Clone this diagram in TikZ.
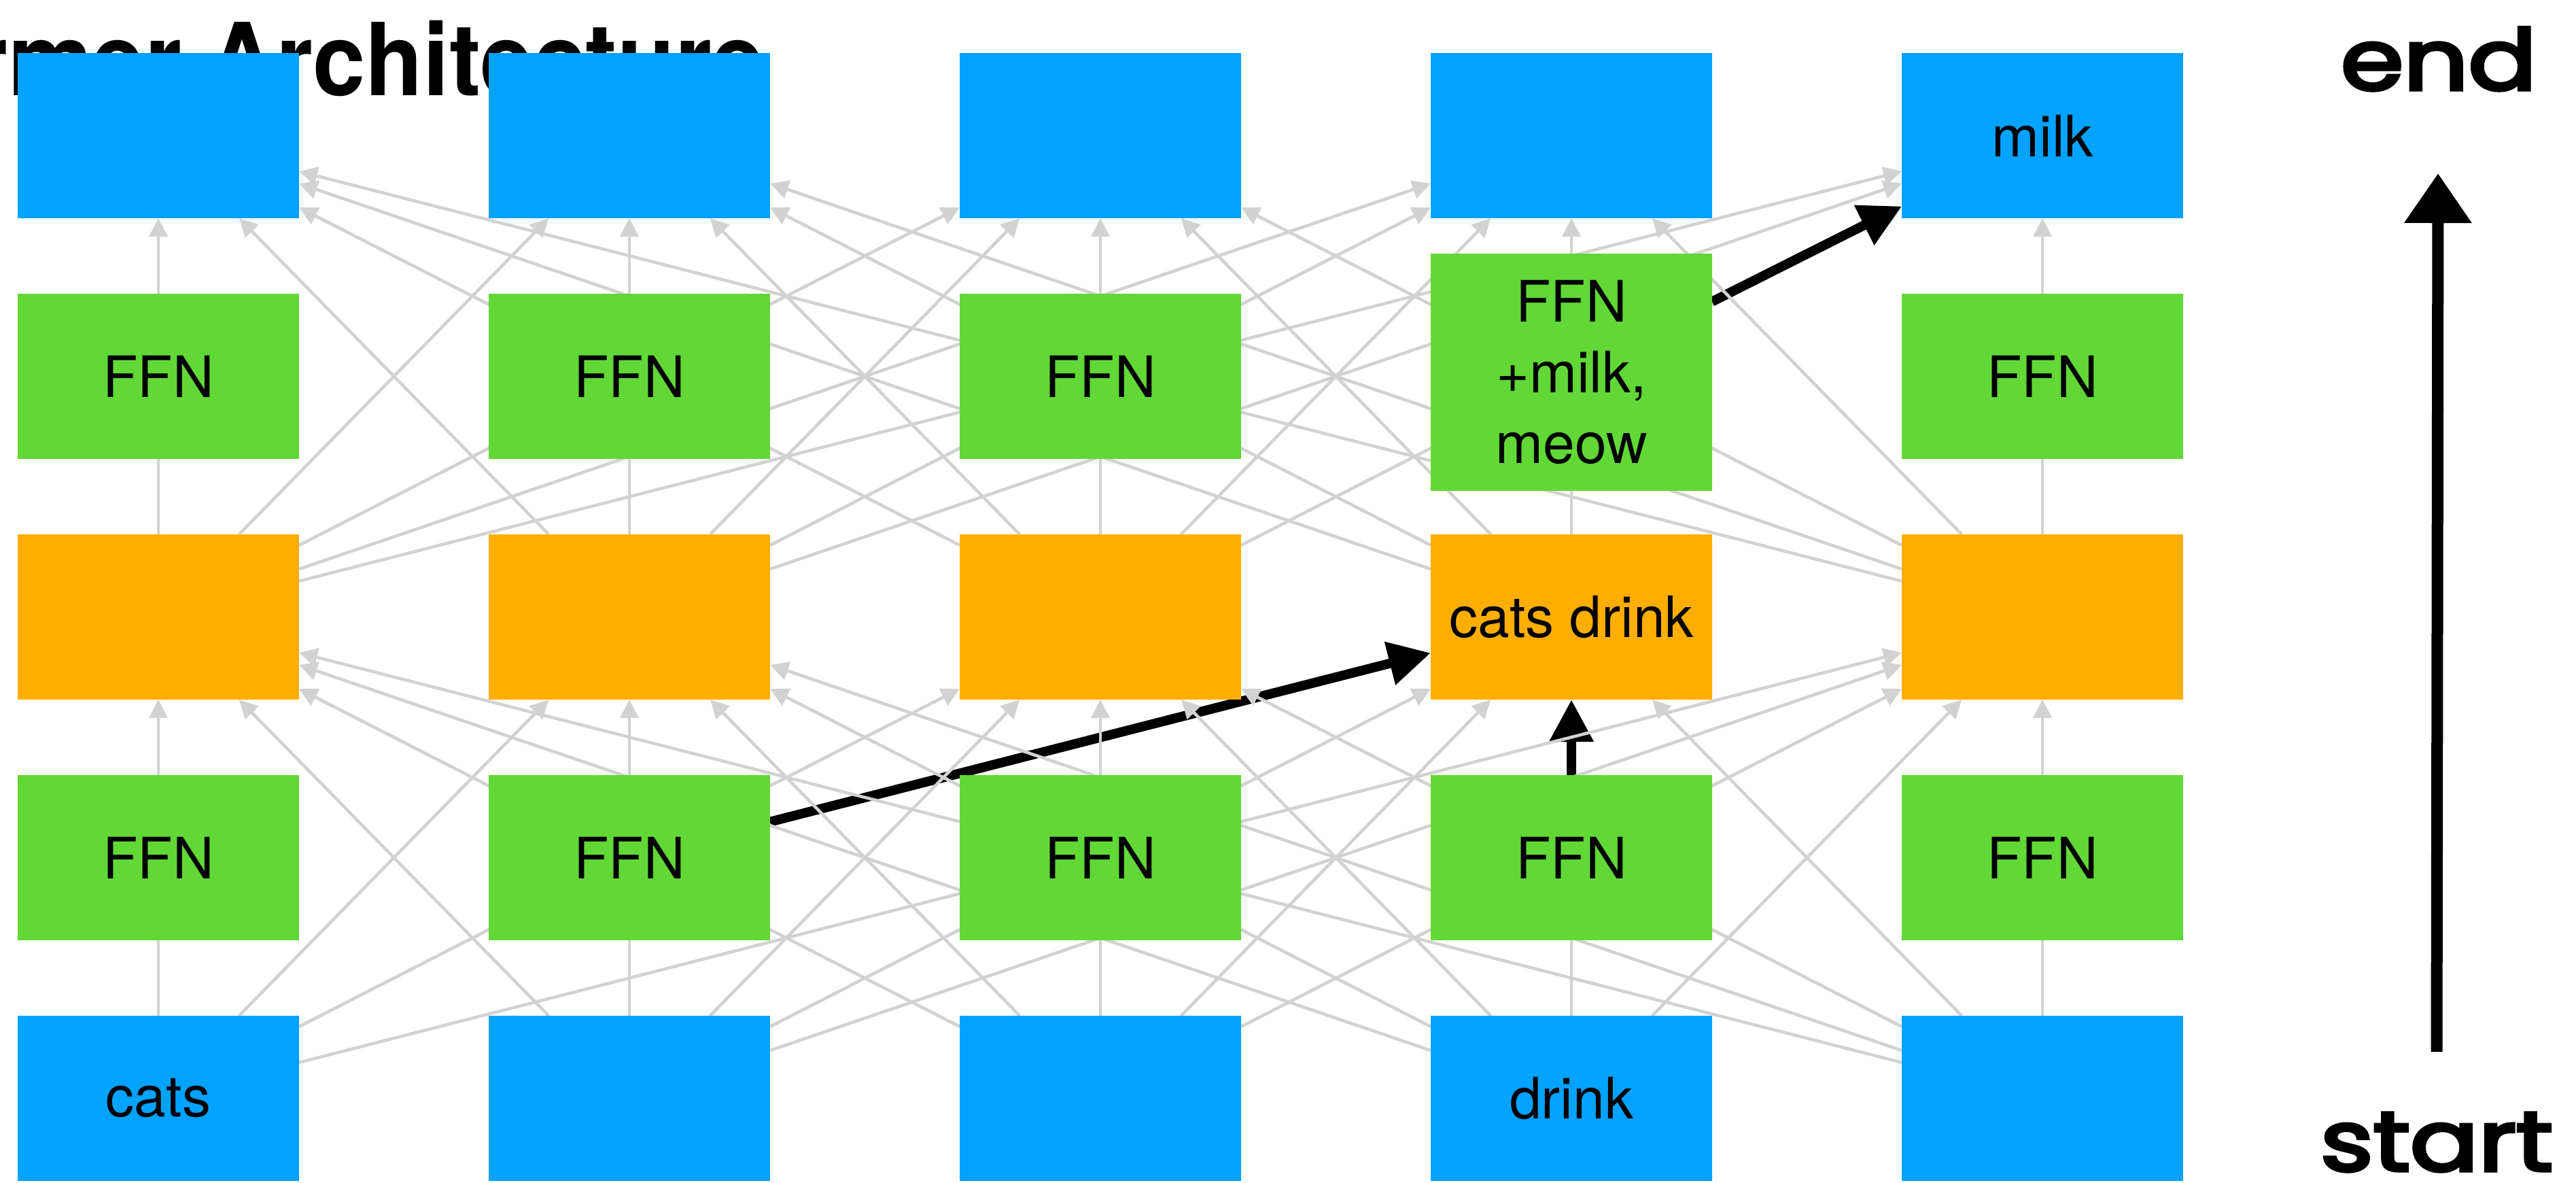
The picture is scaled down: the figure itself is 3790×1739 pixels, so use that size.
\documentclass[tikz,border=0pt]{standalone}
\usepackage{fontspec}
\usepackage{graphicx}
\setmainfont{TeX Gyre Heros}
\newfontfamily\handfont{Poppins}[FakeBold=4]
\usetikzlibrary{arrows.meta}

\definecolor{tokblue}{RGB}{2,162,255}
\definecolor{ffngreen}{RGB}{97,216,54}
\definecolor{attnorange}{RGB}{254,174,0}
\definecolor{linegrey}{RGB}{210,210,210}

\pgfdeclarelayer{back}
\pgfdeclarelayer{links}
\pgfsetlayers{back,links,main}

\tikzset{
  box/.style={rectangle, inner sep=0pt, outer sep=0pt,
    minimum width=103.5pt, minimum height=60.75pt, text=black,
    font=\fontsize{21pt}{26pt}\selectfont, align=center},
  tokbox/.style={box, fill=tokblue},
  ffnbox/.style={box, fill=ffngreen},
  attbox/.style={box, fill=attnorange},
  link/.style={draw=linegrey, line width=1.15pt,
    -{Triangle[length=6.75pt,width=6.75pt]}},
  focus/.style={draw=black, line width=3.5pt,
    -{Triangle[length=15.5pt,width=15.5pt]}},
  handlabel/.style={font=\handfont\fontsize{31pt}{31pt}\selectfont,
    anchor=base, inner sep=0pt},
}

\begin{document}
\begin{tikzpicture}[x=0.25pt,y=-0.25pt]
\useasboundingbox (0,0) rectangle (3790,1739);
\clip (0,0) rectangle (3790,1739);

% input tokens
\node[tokbox] (b1) at (233,1615.5)  {cats};
\node[tokbox] (b2) at (926,1615.5)  {};
\node[tokbox] (b3) at (1619,1615.5) {};
\node[tokbox] (b4) at (2312,1615.5) {drink};
\node[tokbox] (b5) at (3005,1615.5) {};

% first feed-forward row
\node[ffnbox] (f1) at (233,1261.5)  {FFN};
\node[ffnbox] (f2) at (926,1261.5)  {FFN};
\node[ffnbox] (f3) at (1619,1261.5) {FFN};
\node[ffnbox] (f4) at (2312,1261.5) {FFN};
\node[ffnbox] (f5) at (3005,1261.5) {FFN};

% attention row
\node[attbox] (a1) at (233,907.5)  {};
\node[attbox] (a2) at (926,907.5)  {};
\node[attbox] (a3) at (1619,907.5) {};
\node[attbox] (a4) at (2312,907.5) {cats drink};
\node[attbox] (a5) at (3005,907.5) {};

% second feed-forward row
\node[ffnbox] (g1) at (233,553.5)  {FFN};
\node[ffnbox] (g2) at (926,553.5)  {FFN};
\node[ffnbox] (g3) at (1619,553.5) {FFN};
\node[ffnbox, minimum height=87.25pt] (g4) at (2312,547.5) {FFN\\+milk,\\meow};
\node[ffnbox] (g5) at (3005,553.5) {FFN};

% output tokens
\node[tokbox] (t1) at (233,199.5)  {};
\node[tokbox] (t2) at (926,199.5)  {};
\node[tokbox] (t3) at (1619,199.5) {};
\node[tokbox] (t4) at (2312,199.5) {};
\node[tokbox] (t5) at (3005,199.5) {milk};

% time axis on the right
\node[handlabel] (endlbl) at (3588,132) {\scalebox{1.2}[1]{end}};
\node[handlabel] (startlbl) at (3585,1722) {\scalebox{1.2}[1]{start}};
\coordinate (axisfoot) at (3585,1547);
\coordinate (axishead) at (3587,255);
\draw[line width=4.25pt, -{Triangle[length=18.25pt,width=23.75pt]}]
  (axisfoot) -- (axishead);

% title, the two links hidden under the highlighted path, and the path itself
\begin{pgfonlayer}{back}
  \node[anchor=base east, inner sep=0pt,
        font=\fontsize{37pt}{37pt}\selectfont\bfseries] (title) at (1126,140.5)
        {\scalebox{0.94}[1]{Transformer Architecture}};
  \draw[link] (b4) -- (a4);
  \draw[link] (a3) -- (t5);
  \draw[focus] (f2) -- (a4);
  \draw[focus] (f4) -- (a4);
  \draw[focus] (g4) -- (t5);
\end{pgfonlayer}

% all-to-all attention links
\begin{pgfonlayer}{links}
  \foreach \i in {1,...,5}{
    \foreach \j in {1,...,5}{
      \ifnum\i\j=14 \else\ifnum\i\j=44 \else
        \draw[link] (b\i) -- (a\j);
      \fi\fi
      \ifnum\i\j=45 \else\ifnum\i\j=35 \else
        \draw[link] (a\i) -- (t\j);
      \fi\fi
    }
  }
\end{pgfonlayer}
\end{tikzpicture}
\end{document}
